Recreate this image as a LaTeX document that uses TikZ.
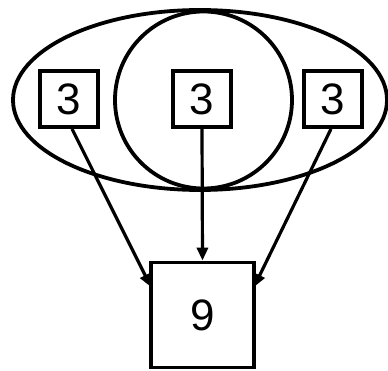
\documentclass[tikz,border=0pt]{standalone}
\usepackage{fontspec}
\setmainfont{Liberation Sans}
\usetikzlibrary{arrows.meta}
\begin{document}
\begin{tikzpicture}[x=1pt,y=-1pt,
  shapeline/.style={line width=3.8pt},
  numbox/.style={draw,line width=3.8pt,minimum width=58pt,minimum height=56pt,inner sep=0pt,font=\fontsize{44}{44}\selectfont},
  bigbox/.style={draw,line width=3.8pt,minimum width=103pt,minimum height=105pt,inner sep=0pt,font=\fontsize{44}{44}\selectfont},
  arr/.style={-{Triangle[length=13pt,width=11pt]},line width=3.2pt}]
\useasboundingbox (0,0) rectangle (388,371);
\draw[shapeline] (200,100) ellipse [x radius=187, y radius=90];
\draw[shapeline] (203.5,100) circle [radius=88.5];
\node[numbox] (a) at (69,99) {3};
\node[numbox] (b) at (202,99) {3};
\node[numbox] (c) at (333,99) {3};
\node[bigbox] (n) at (202.5,315) {9};
\coordinate (a1) at ([xshift=3pt]a.south);
\coordinate (c1) at ([xshift=-2pt]c.south);
\coordinate (nl) at (151,287);
\coordinate (nr) at (254,287);
\draw[arr] (a1) -- (nl);
\draw[arr] (b.south) -- (n.north);
\draw[arr] (c1) -- (nr);
\end{tikzpicture}
\end{document}
